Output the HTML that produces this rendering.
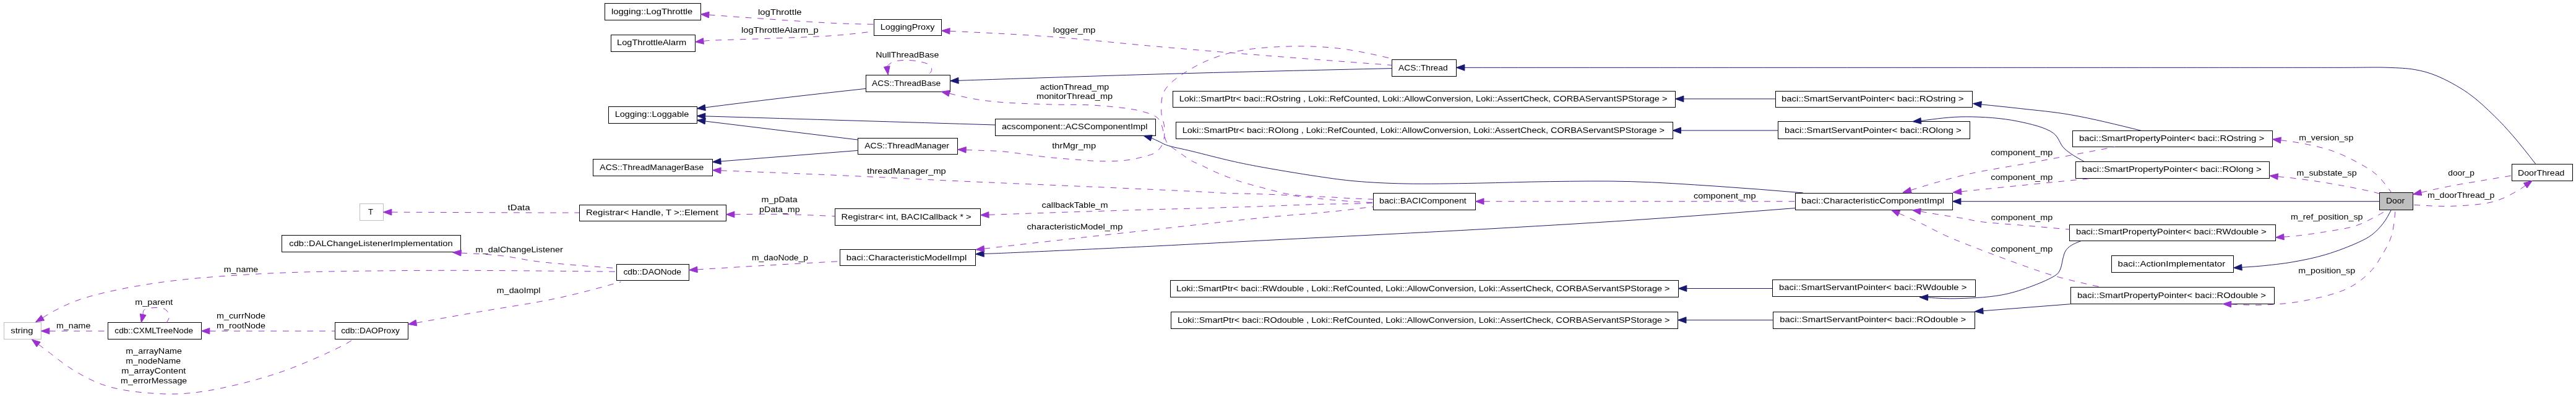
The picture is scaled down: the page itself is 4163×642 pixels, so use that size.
<!DOCTYPE html><html><head><meta charset="utf-8"><style>html,body{margin:0;padding:0;background:#fff;width:4163px;height:642px;overflow:hidden}svg{display:block;will-change:transform}text{font-family:"Liberation Sans",sans-serif;font-size:13px;fill:#000}</style></head><body>
<svg width="4163" height="642" viewBox="0 0 4163 642">
<rect x="0" y="0" width="4163" height="642" fill="#fff"/>
<rect x="977.5" y="5.5" width="155.0" height="27.0" fill="#fff" stroke="#000" stroke-width="1"/>
<rect x="987.5" y="56.5" width="136.0" height="27.0" fill="#fff" stroke="#000" stroke-width="1"/>
<rect x="1412.5" y="31.5" width="109.0" height="26.0" fill="#fff" stroke="#000" stroke-width="1"/>
<rect x="1399.5" y="121.5" width="136.0" height="27.0" fill="#fff" stroke="#000" stroke-width="1"/>
<rect x="2249.5" y="96.5" width="104.0" height="27.0" fill="#fff" stroke="#000" stroke-width="1"/>
<rect x="983.5" y="172.5" width="143.0" height="27.0" fill="#fff" stroke="#000" stroke-width="1"/>
<rect x="1608.5" y="192.5" width="259.0" height="27.0" fill="#fff" stroke="#000" stroke-width="1"/>
<rect x="1386.5" y="223.5" width="161.0" height="26.0" fill="#fff" stroke="#000" stroke-width="1"/>
<rect x="958.5" y="257.5" width="193.0" height="27.0" fill="#fff" stroke="#000" stroke-width="1"/>
<rect x="1895.5" y="147.5" width="812.0" height="26.0" fill="#fff" stroke="#000" stroke-width="1"/>
<rect x="1900.5" y="197.5" width="803.0" height="27.0" fill="#fff" stroke="#000" stroke-width="1"/>
<rect x="2869.5" y="147.5" width="318.0" height="26.0" fill="#fff" stroke="#000" stroke-width="1"/>
<rect x="2873.5" y="196.5" width="310.0" height="28.0" fill="#fff" stroke="#000" stroke-width="1"/>
<rect x="3349.5" y="211.5" width="323.0" height="26.0" fill="#fff" stroke="#000" stroke-width="1"/>
<rect x="3354.5" y="261.5" width="313.0" height="27.0" fill="#fff" stroke="#000" stroke-width="1"/>
<rect x="4059.5" y="265.5" width="98.0" height="27.0" fill="#fff" stroke="#000" stroke-width="1"/>
<rect x="3845.5" y="311.5" width="54.0" height="28.0" fill="#bfbfbf" stroke="#000" stroke-width="1"/>
<rect x="2901.5" y="312.5" width="254.0" height="27.0" fill="#fff" stroke="#000" stroke-width="1"/>
<rect x="2219.5" y="312.5" width="165.0" height="27.0" fill="#fff" stroke="#000" stroke-width="1"/>
<rect x="581.5" y="329.5" width="38.0" height="27.0" fill="#fff" stroke="#bfbfbf" stroke-width="1"/>
<rect x="936.5" y="331.5" width="237.0" height="26.0" fill="#fff" stroke="#000" stroke-width="1"/>
<rect x="1349.5" y="337.5" width="235.0" height="27.0" fill="#fff" stroke="#000" stroke-width="1"/>
<rect x="455.5" y="380.5" width="289.0" height="27.0" fill="#fff" stroke="#000" stroke-width="1"/>
<rect x="996.5" y="427.5" width="117.0" height="26.0" fill="#fff" stroke="#000" stroke-width="1"/>
<rect x="1357.5" y="403.5" width="219.0" height="26.0" fill="#fff" stroke="#000" stroke-width="1"/>
<rect x="3344.5" y="363.5" width="333.0" height="26.0" fill="#fff" stroke="#000" stroke-width="1"/>
<rect x="3412.5" y="413.5" width="197.0" height="27.0" fill="#fff" stroke="#000" stroke-width="1"/>
<rect x="1891.5" y="453.5" width="821.0" height="27.0" fill="#fff" stroke="#000" stroke-width="1"/>
<rect x="2864.5" y="452.5" width="328.0" height="27.0" fill="#fff" stroke="#000" stroke-width="1"/>
<rect x="3346.5" y="464.5" width="329.0" height="27.0" fill="#fff" stroke="#000" stroke-width="1"/>
<rect x="1892.5" y="504.5" width="819.0" height="27.0" fill="#fff" stroke="#000" stroke-width="1"/>
<rect x="2865.5" y="504.5" width="326.0" height="27.0" fill="#fff" stroke="#000" stroke-width="1"/>
<rect x="6.5" y="521.5" width="60.0" height="27.0" fill="#fff" stroke="#bfbfbf" stroke-width="1"/>
<rect x="174.5" y="521.5" width="151.0" height="27.0" fill="#fff" stroke="#000" stroke-width="1"/>
<rect x="541.5" y="521.5" width="118.0" height="27.0" fill="#fff" stroke="#000" stroke-width="1"/>
<path d="M1549.0,130.3 C1584.7,129.1 1620.3,127.9 1666.0,126.4 C1730.6,124.3 1814.0,121.5 1899.8,119.1 C2004.7,116.2 2127.1,113.4 2249.5,110.6" fill="none" stroke="#191970" stroke-width="1"/>
<polygon points="1535.5,130.8 1548.8,125.4 1549.2,135.2" fill="#191970" stroke="#191970" stroke-width="1"/>
<path d="M1139.7,173.9 C1179.1,168.9 1218.4,163.9 1260.0,159.0 C1304.7,153.7 1352.1,148.5 1399.4,143.3" fill="none" stroke="#191970" stroke-width="1"/>
<polygon points="1126.3,175.6 1139.1,169.1 1140.3,178.8" fill="#191970" stroke="#191970" stroke-width="1"/>
<path d="M1139.8,187.9 C1220.4,190.3 1301.0,192.7 1380.0,195.1 C1457.0,197.4 1532.6,199.7 1608.2,202.0" fill="none" stroke="#191970" stroke-width="1"/>
<polygon points="1126.3,187.5 1139.9,183.0 1139.6,192.8" fill="#191970" stroke="#191970" stroke-width="1"/>
<path d="M1139.7,196.0 L1385.9,226.0" fill="none" stroke="#191970" stroke-width="1"/>
<polygon points="1126.3,194.4 1140.3,191.2 1139.1,200.9" fill="#191970" stroke="#191970" stroke-width="1"/>
<path d="M1165.0,260.9 L1385.9,243.4" fill="none" stroke="#191970" stroke-width="1"/>
<polygon points="1151.5,262.0 1164.6,256.0 1165.3,265.8" fill="#191970" stroke="#191970" stroke-width="1"/>
<path d="M2720.9,159.9 L2869.0,159.9" fill="none" stroke="#191970" stroke-width="1"/>
<polygon points="2707.4,159.9 2720.9,155.0 2720.9,164.8" fill="#191970" stroke="#191970" stroke-width="1"/>
<path d="M2716.5,211.0 L2873.2,211.0" fill="none" stroke="#191970" stroke-width="1"/>
<polygon points="2703.0,211.0 2716.5,206.1 2716.5,215.9" fill="#191970" stroke="#191970" stroke-width="1"/>
<path d="M3201.9,168.9 C3222.5,171.0 3243.1,173.0 3265.6,175.6 C3291.0,178.5 3317.5,180.6 3346.7,185.7 C3381.5,191.8 3420.9,201.5 3460.3,211.3" fill="none" stroke="#191970" stroke-width="1"/>
<polygon points="3188.5,167.5 3202.4,164.0 3201.4,173.8" fill="#191970" stroke="#191970" stroke-width="1"/>
<path d="M3104.4,195.4 C3128.4,192.1 3152.3,188.8 3177.4,188.8 C3204.1,188.8 3235.1,190.9 3260.0,196.0 C3281.4,200.4 3305.5,205.8 3318.4,215.3 C3327.5,222.0 3328.4,232.7 3336.0,240.0 C3344.5,248.2 3356.1,254.6 3367.8,261.1" fill="none" stroke="#191970" stroke-width="1"/>
<polygon points="3091.0,196.6 3104.0,190.5 3104.9,200.3" fill="#191970" stroke="#191970" stroke-width="1"/>
<path d="M3168.9,325.7 L3845.4,325.7" fill="none" stroke="#191970" stroke-width="1"/>
<polygon points="3155.4,325.7 3168.9,320.8 3168.9,330.6" fill="#191970" stroke="#191970" stroke-width="1"/>
<path d="M1860.8,223.3 C1864.5,224.9 1868.2,226.5 1872.0,228.3 C1876.1,230.2 1879.0,232.4 1884.5,234.4 C1894.2,237.9 1910.8,240.7 1926.1,244.5 C1945.1,249.2 1971.1,256.0 1990.0,260.3 C2005.1,263.7 2014.1,265.6 2030.7,268.7 C2056.4,273.5 2100.3,280.9 2129.4,285.2 C2152.3,288.6 2169.2,291.1 2191.0,293.0 C2215.7,295.2 2241.1,296.4 2270.0,297.0 C2305.3,297.8 2348.4,296.8 2387.5,296.2 C2426.5,295.6 2464.3,294.0 2504.4,293.6 C2546.8,293.1 2591.2,292.4 2635.4,293.6 C2680.7,294.8 2726.9,298.1 2773.0,301.1 C2819.7,304.2 2866.7,308.0 2913.8,311.9" fill="none" stroke="#191970" stroke-width="1"/>
<polygon points="1847.9,219.4 1862.2,218.6 1859.4,227.9" fill="#191970" stroke="#191970" stroke-width="1"/>
<path d="M1590.1,410.4 C1597.2,410.2 1604.4,410.0 1618.6,409.4 C1660.6,407.7 1789.9,401.7 1867.5,397.9 C1935.8,394.5 1987.7,391.6 2060.0,387.9 C2153.2,383.1 2278.7,377.1 2380.0,371.5 C2471.7,366.4 2554.9,361.6 2642.0,355.8 C2728.7,350.0 2815.1,343.2 2901.4,336.5" fill="none" stroke="#191970" stroke-width="1"/>
<polygon points="1576.6,410.9 1589.9,405.5 1590.3,415.3" fill="#191970" stroke="#191970" stroke-width="1"/>
<path d="M3623.0,432.3 C3632.2,431.8 3641.5,431.3 3652.9,430.2 C3668.1,428.7 3688.2,426.7 3705.8,423.6 C3723.5,420.5 3741.2,416.9 3758.6,411.7 C3776.4,406.4 3798.0,398.1 3811.5,391.8 C3820.3,387.7 3826.2,384.9 3832.7,380.0 C3839.5,374.9 3845.9,368.2 3851.2,361.4 C3856.4,354.7 3860.4,347.0 3864.4,339.4" fill="none" stroke="#191970" stroke-width="1"/>
<polygon points="3609.5,433.2 3622.6,427.4 3623.3,437.2" fill="#191970" stroke="#191970" stroke-width="1"/>
<path d="M3115.7,481.1 C3131.1,482.2 3146.5,483.3 3165.0,482.7 C3188.7,481.9 3219.9,481.0 3246.2,474.6 C3272.7,468.2 3312.2,452.6 3323.2,444.2 C3327.0,441.3 3327.3,439.9 3329.3,436.0 C3332.9,429.0 3333.2,411.5 3339.5,403.6 C3345.2,396.4 3354.5,392.9 3363.8,389.4" fill="none" stroke="#191970" stroke-width="1"/>
<polygon points="3102.2,480.7 3115.8,476.2 3115.5,486.0" fill="#191970" stroke="#191970" stroke-width="1"/>
<path d="M3204.9,502.7 L3346.4,491.7" fill="none" stroke="#191970" stroke-width="1"/>
<polygon points="3191.4,503.8 3204.5,497.9 3205.2,507.6" fill="#191970" stroke="#191970" stroke-width="1"/>
<path d="M2725.8,466.5 L2864.1,466.5" fill="none" stroke="#191970" stroke-width="1"/>
<polygon points="2712.3,466.5 2725.8,461.6 2725.8,471.4" fill="#191970" stroke="#191970" stroke-width="1"/>
<path d="M2725.0,517.6 L2864.9,517.6" fill="none" stroke="#191970" stroke-width="1"/>
<polygon points="2711.5,517.6 2725.0,512.7 2725.0,522.5" fill="#191970" stroke="#191970" stroke-width="1"/>
<path d="M2366.9,109.3 C2982.9,109.3 3598.9,109.3 3780.0,109.3 C3823.1,109.3 3837.5,108.4 3860.0,109.3 C3876.5,109.9 3889.4,110.2 3902.8,112.6 C3915.0,114.8 3924.8,117.3 3937.1,122.3 C3952.8,128.7 3972.7,139.5 3988.5,150.5 C4004.1,161.4 4018.6,175.5 4031.3,187.8 C4042.5,198.6 4051.0,208.1 4061.3,219.9 C4073.1,233.5 4085.4,249.3 4097.7,265.1" fill="none" stroke="#191970" stroke-width="1"/>
<polygon points="2353.4,109.3 2366.9,104.4 2366.9,114.2" fill="#191970" stroke="#191970" stroke-width="1"/>
<path d="M1145.8,24.0 C1165.8,25.5 1185.8,27.0 1211.9,28.8 C1249.5,31.4 1313.0,35.9 1350.0,37.6 C1374.8,38.7 1393.6,39.0 1412.3,39.3" fill="none" stroke="#9a32cd" stroke-width="1" stroke-dasharray="9.8,9.9"/>
<polygon points="1132.3,23.0 1146.1,19.1 1145.4,28.9" fill="#9a32cd" stroke="#9a32cd" stroke-width="1"/>
<path d="M1136.9,66.5 C1139.3,66.1 1141.6,65.8 1146.4,65.5 C1161.9,64.5 1211.3,63.5 1244.6,62.2 C1279.1,60.8 1319.5,59.6 1350.0,57.3 C1373.5,55.5 1392.9,53.1 1412.3,50.7" fill="none" stroke="#9a32cd" stroke-width="1" stroke-dasharray="9.8,9.9"/>
<polygon points="1123.5,67.8 1136.4,61.6 1137.4,71.3" fill="#9a32cd" stroke="#9a32cd" stroke-width="1"/>
<path d="M1535.0,50.3 C1587.8,52.8 1640.7,55.2 1695.3,59.2 C1752.5,63.4 1812.1,70.2 1870.6,75.3 C1929.0,80.4 1985.4,85.1 2046.0,89.9 C2111.3,95.1 2180.4,100.3 2249.5,105.4" fill="none" stroke="#9a32cd" stroke-width="1" stroke-dasharray="9.8,9.9"/>
<polygon points="1521.5,49.6 1535.2,45.5 1534.7,55.2" fill="#9a32cd" stroke="#9a32cd" stroke-width="1"/>
<path d="M1433.2,107.5 C1436.0,104.7 1438.7,101.9 1442.7,100.2 C1448.0,98.0 1456.0,97.6 1462.9,97.4 C1470.2,97.2 1478.7,98.0 1485.6,99.5 C1491.6,100.8 1498.7,102.2 1502.0,105.2 C1504.4,107.4 1506.0,110.8 1505.7,113.4 C1505.3,116.1 1502.4,118.7 1499.4,121.2" fill="none" stroke="#9a32cd" stroke-width="1" stroke-dasharray="9.8,9.9"/>
<polygon points="1435.2,120.9 1428.4,108.3 1438.1,106.8" fill="#9a32cd" stroke="#9a32cd" stroke-width="1"/>
<path d="M1534.2,151.1 C1547.3,154.3 1560.3,157.6 1573.8,159.9 C1587.6,162.3 1599.5,163.8 1616.0,165.2 C1639.2,167.2 1673.2,168.1 1700.0,169.0 C1724.7,169.8 1747.1,168.6 1771.0,170.4 C1795.5,172.2 1826.7,174.9 1845.0,180.0 C1856.5,183.2 1866.1,185.8 1872.0,192.0 C1877.3,197.6 1878.2,207.1 1880.6,214.0 C1882.7,219.9 1882.5,225.8 1886.0,230.8 C1890.2,236.9 1899.2,241.6 1906.0,246.6 C1912.6,251.5 1919.6,256.7 1926.1,260.3 C1931.6,263.4 1936.4,264.8 1942.1,267.5 C1948.9,270.7 1955.7,274.5 1964.2,278.2 C1975.3,283.0 1990.3,288.9 2003.5,293.3 C2016.5,297.6 2032.2,301.4 2042.8,304.3 C2050.0,306.2 2054.7,307.5 2060.9,309.0 C2067.4,310.6 2074.3,312.6 2081.0,313.8 C2087.7,315.0 2094.5,315.7 2101.2,316.4 C2107.9,317.1 2114.6,317.5 2121.3,317.8 C2128.0,318.1 2133.8,318.0 2141.4,318.3 C2151.4,318.7 2166.3,319.9 2176.3,320.4 C2183.8,320.8 2189.1,321.0 2196.0,321.3 C2203.5,321.6 2211.5,322.0 2219.5,322.3" fill="none" stroke="#9a32cd" stroke-width="1" stroke-dasharray="9.8,9.9"/>
<polygon points="1521.0,148.2 1535.2,146.3 1533.1,155.9" fill="#9a32cd" stroke="#9a32cd" stroke-width="1"/>
<path d="M1561.2,242.4 C1567.6,242.6 1574.1,242.9 1581.9,243.2 C1592.0,243.6 1605.3,243.7 1616.9,244.6 C1628.6,245.5 1639.6,247.3 1651.8,248.8 C1665.1,250.5 1679.7,252.8 1693.7,254.3 C1707.6,255.8 1721.6,256.8 1735.6,257.8 C1749.6,258.9 1763.6,260.4 1777.6,260.6 C1791.6,260.8 1807.0,260.7 1819.5,259.2 C1829.8,258.0 1838.8,256.0 1847.4,253.6 C1855.0,251.5 1862.9,250.1 1868.4,246.0 C1873.4,242.2 1877.3,236.8 1879.6,230.6 C1882.2,223.4 1882.1,213.3 1881.6,205.0 C1881.1,196.9 1877.0,189.9 1876.8,181.2 C1876.6,170.6 1876.0,156.8 1882.3,146.0 C1890.4,132.0 1911.5,118.9 1929.0,108.9 C1947.4,98.3 1967.9,90.5 1990.4,84.9 C2016.0,78.6 2046.5,76.4 2075.0,75.3 C2104.0,74.1 2133.8,74.9 2162.8,78.2 C2191.9,81.5 2220.7,88.2 2249.5,94.9" fill="none" stroke="#9a32cd" stroke-width="1" stroke-dasharray="9.8,9.9"/>
<polygon points="1547.7,241.8 1561.4,237.5 1561.0,247.2" fill="#9a32cd" stroke="#9a32cd" stroke-width="1"/>
<path d="M1165.0,275.8 C1233.0,278.4 1301.1,281.1 1365.6,284.0 C1425.8,286.7 1477.9,289.6 1540.0,292.4 C1611.2,295.7 1698.5,299.2 1769.2,302.3 C1830.0,305.0 1901.6,308.1 1939.0,310.0 C1957.5,311.0 1966.5,311.8 1980.4,312.4 C1994.4,313.0 2007.4,312.9 2022.6,313.4 C2040.5,314.0 2063.4,314.5 2081.0,315.8 C2095.7,316.8 2110.4,318.7 2121.3,319.9 C2128.8,320.7 2132.3,321.3 2140.2,322.1 C2153.4,323.4 2178.4,325.4 2193.0,326.3 C2203.3,327.0 2211.4,327.3 2219.5,327.6" fill="none" stroke="#9a32cd" stroke-width="1" stroke-dasharray="9.8,9.9"/>
<polygon points="1151.5,275.2 1165.2,270.9 1164.8,280.7" fill="#9a32cd" stroke="#9a32cd" stroke-width="1"/>
<path d="M1598.0,347.4 C1665.6,345.0 1733.3,342.7 1802.0,340.6 C1872.1,338.4 1971.6,336.0 2014.6,334.6 C2033.3,334.0 2039.2,333.7 2054.9,333.1 C2077.1,332.3 2111.0,330.9 2135.1,330.3 C2154.8,329.8 2173.6,329.9 2189.0,329.4 C2200.6,329.0 2210.1,328.5 2219.5,328.0" fill="none" stroke="#9a32cd" stroke-width="1" stroke-dasharray="9.8,9.9"/>
<polygon points="1584.5,347.8 1597.8,342.5 1598.2,352.3" fill="#9a32cd" stroke="#9a32cd" stroke-width="1"/>
<path d="M1590.4,402.2 C1659.2,394.3 1728.0,386.4 1802.0,378.2 C1883.7,369.1 2001.4,355.8 2060.0,350.2 C2090.2,347.3 2107.4,346.4 2128.8,344.4 C2147.5,342.7 2167.9,340.6 2181.2,339.0 C2189.4,338.0 2194.5,337.2 2201.0,336.4 C2207.3,335.7 2213.4,335.1 2219.5,334.5" fill="none" stroke="#9a32cd" stroke-width="1" stroke-dasharray="9.8,9.9"/>
<polygon points="1577.0,403.7 1589.9,397.3 1591.0,407.0" fill="#9a32cd" stroke="#9a32cd" stroke-width="1"/>
<path d="M2398.0,325.7 L2901.2,325.7" fill="none" stroke="#9a32cd" stroke-width="1" stroke-dasharray="9.8,9.9"/>
<polygon points="2384.5,325.7 2398.0,320.8 2398.0,330.6" fill="#9a32cd" stroke="#9a32cd" stroke-width="1"/>
<path d="M1186.9,346.8 C1210.7,346.4 1234.4,346.1 1260.0,346.5 C1288.2,346.9 1318.6,348.3 1349.0,349.6" fill="none" stroke="#9a32cd" stroke-width="1" stroke-dasharray="9.8,9.9"/>
<polygon points="1173.4,346.8 1186.9,341.9 1186.9,351.7" fill="#9a32cd" stroke="#9a32cd" stroke-width="1"/>
<path d="M632.9,343.1 C732.4,343.5 831.9,343.9 884.2,344.0 C908.0,344.0 922.0,344.0 936.1,344.0" fill="none" stroke="#9a32cd" stroke-width="1" stroke-dasharray="9.8,9.9"/>
<polygon points="619.4,343.1 632.9,338.2 632.9,348.0" fill="#9a32cd" stroke="#9a32cd" stroke-width="1"/>
<path d="M1127.0,435.9 C1158.2,434.0 1189.5,432.0 1224.5,430.0 C1265.3,427.6 1311.2,425.1 1357.1,422.6" fill="none" stroke="#9a32cd" stroke-width="1" stroke-dasharray="9.8,9.9"/>
<polygon points="1113.5,436.7 1126.7,431.0 1127.3,440.8" fill="#9a32cd" stroke="#9a32cd" stroke-width="1"/>
<path d="M745.2,409.1 C767.6,410.2 790.0,411.3 811.2,413.7 C831.2,416.0 846.1,420.1 869.2,422.9 C903.2,427.0 949.6,430.4 996.0,433.7" fill="none" stroke="#9a32cd" stroke-width="1" stroke-dasharray="9.8,9.9"/>
<polygon points="731.7,408.2 745.5,404.2 744.8,414.0" fill="#9a32cd" stroke="#9a32cd" stroke-width="1"/>
<path d="M69.1,513.9 C74.5,510.3 80.0,506.7 87.7,502.7 C99.3,496.7 114.1,489.1 133.0,483.0 C162.0,473.7 205.3,464.8 247.0,458.4 C296.7,450.8 352.3,446.7 411.7,443.3 C481.5,439.2 555.5,438.5 640.0,437.7 C745.5,436.6 870.8,438.0 996.0,439.3" fill="none" stroke="#9a32cd" stroke-width="1" stroke-dasharray="9.8,9.9"/>
<polygon points="57.5,520.8 66.6,509.7 71.6,518.1" fill="#9a32cd" stroke="#9a32cd" stroke-width="1"/>
<path d="M672.9,522.1 C704.4,516.5 735.9,510.9 771.0,504.8 C811.5,497.7 861.3,490.7 902.0,481.9 C938.2,474.1 970.8,464.9 1003.5,455.7" fill="none" stroke="#9a32cd" stroke-width="1" stroke-dasharray="9.8,9.9"/>
<polygon points="659.6,524.4 672.0,517.2 673.7,526.9" fill="#9a32cd" stroke="#9a32cd" stroke-width="1"/>
<path d="M338.8,535.3 L541.3,535.3" fill="none" stroke="#9a32cd" stroke-width="1" stroke-dasharray="9.8,9.9"/>
<polygon points="325.3,535.3 338.8,530.4 338.8,540.2" fill="#9a32cd" stroke="#9a32cd" stroke-width="1"/>
<path d="M79.9,535.3 L174.3,535.3" fill="none" stroke="#9a32cd" stroke-width="1" stroke-dasharray="9.8,9.9"/>
<polygon points="66.4,535.3 79.9,530.4 79.9,540.2" fill="#9a32cd" stroke="#9a32cd" stroke-width="1"/>
<path d="M231.2,508.5 C231.1,505.8 231.0,503.0 232.8,501.2 C235.7,498.4 245.2,497.7 251.0,497.5 C256.2,497.4 262.2,497.4 266.0,499.7 C269.6,501.8 273.2,506.5 273.7,510.2 C274.2,513.8 271.6,517.8 269.1,521.7" fill="none" stroke="#9a32cd" stroke-width="1" stroke-dasharray="9.8,9.9"/>
<polygon points="228.3,521.7 226.4,507.5 236.0,509.6" fill="#9a32cd" stroke="#9a32cd" stroke-width="1"/>
<path d="M62.2,557.0 C65.1,559.1 67.9,561.2 72.6,564.7 C82.8,572.2 104.0,590.0 121.0,600.0 C137.8,609.9 154.0,618.7 174.0,624.7 C197.8,631.8 229.2,635.3 255.4,636.6 C279.7,637.8 299.5,637.2 326.0,633.4 C361.4,628.3 409.8,616.3 448.4,603.5 C484.8,591.5 531.0,570.3 551.6,560.0 C560.8,555.4 565.9,552.0 571.0,548.6" fill="none" stroke="#9a32cd" stroke-width="1" stroke-dasharray="9.8,9.9"/>
<polygon points="51.4,549.0 65.2,553.1 59.3,561.0" fill="#9a32cd" stroke="#9a32cd" stroke-width="1"/>
<path d="M3088.1,307.5 C3117.1,298.5 3146.2,289.6 3177.4,282.3 C3211.0,274.5 3245.8,269.9 3283.2,262.9 C3325.4,255.1 3371.7,246.3 3418.0,237.5" fill="none" stroke="#9a32cd" stroke-width="1" stroke-dasharray="9.8,9.9"/>
<polygon points="3075.1,311.2 3086.8,302.8 3089.4,312.2" fill="#9a32cd" stroke="#9a32cd" stroke-width="1"/>
<path d="M3169.6,309.8 C3208.1,305.8 3246.7,301.8 3283.2,298.1 C3317.3,294.7 3349.6,291.5 3382.0,288.3" fill="none" stroke="#9a32cd" stroke-width="1" stroke-dasharray="9.8,9.9"/>
<polygon points="3156.2,311.2 3169.1,304.9 3170.1,314.7" fill="#9a32cd" stroke="#9a32cd" stroke-width="1"/>
<path d="M3103.8,342.0 C3112.4,343.5 3120.9,345.0 3130.8,346.6 C3142.9,348.6 3158.7,350.8 3171.0,352.9 C3181.5,354.7 3188.2,356.8 3200.0,358.4 C3218.2,360.9 3246.3,362.4 3270.0,364.5 C3294.5,366.6 3319.6,368.9 3344.7,371.1" fill="none" stroke="#9a32cd" stroke-width="1" stroke-dasharray="9.8,9.9"/>
<polygon points="3090.5,339.8 3104.6,337.2 3103.0,346.9" fill="#9a32cd" stroke="#9a32cd" stroke-width="1"/>
<path d="M3068.8,345.1 C3070.6,345.9 3072.4,346.6 3075.3,347.9 C3081.7,350.7 3095.0,356.6 3105.6,361.7 C3117.6,367.4 3130.3,374.6 3143.4,380.6 C3157.1,386.8 3169.0,391.5 3186.2,398.2 C3211.8,408.2 3256.6,425.0 3282.7,434.0 C3300.3,440.1 3310.7,443.6 3327.3,448.2 C3347.7,453.8 3371.9,459.2 3396.2,464.5" fill="none" stroke="#9a32cd" stroke-width="1" stroke-dasharray="9.8,9.9"/>
<polygon points="3056.4,339.8 3070.7,340.6 3066.9,349.6" fill="#9a32cd" stroke="#9a32cd" stroke-width="1"/>
<path d="M3685.9,226.8 C3688.8,227.1 3691.7,227.4 3696.0,228.0 C3703.9,229.1 3717.6,231.1 3729.3,233.6 C3742.5,236.4 3757.3,239.7 3770.9,244.6 C3785.0,249.7 3800.2,257.2 3812.4,264.0 C3822.8,269.8 3831.7,274.6 3840.2,282.1 C3849.4,290.3 3857.2,301.1 3865.1,311.9" fill="none" stroke="#9a32cd" stroke-width="1" stroke-dasharray="9.8,9.9"/>
<polygon points="3672.5,225.2 3686.5,221.9 3685.3,231.7" fill="#9a32cd" stroke="#9a32cd" stroke-width="1"/>
<path d="M3681.2,285.6 C3687.4,286.1 3693.6,286.7 3701.6,287.6 C3713.0,288.9 3729.3,291.0 3743.1,293.1 C3757.0,295.2 3770.9,297.6 3784.7,300.1 C3798.6,302.7 3815.1,305.9 3826.3,308.4 C3833.9,310.1 3839.7,311.6 3845.4,313.1" fill="none" stroke="#9a32cd" stroke-width="1" stroke-dasharray="9.8,9.9"/>
<polygon points="3667.8,284.3 3681.7,280.7 3680.8,290.5" fill="#9a32cd" stroke="#9a32cd" stroke-width="1"/>
<path d="M3691.0,383.0 C3695.2,382.9 3699.4,382.7 3705.8,382.0 C3718.0,380.7 3741.5,377.6 3758.6,374.7 C3774.9,372.0 3792.2,369.9 3806.2,365.4 C3818.1,361.6 3828.8,355.7 3838.0,350.9 C3845.5,347.0 3851.6,343.2 3857.8,339.4" fill="none" stroke="#9a32cd" stroke-width="1" stroke-dasharray="9.8,9.9"/>
<polygon points="3677.5,384.0 3690.6,378.2 3691.3,387.9" fill="#9a32cd" stroke="#9a32cd" stroke-width="1"/>
<path d="M3605.7,492.0 C3623.6,492.9 3641.5,493.8 3660.0,493.0 C3679.5,492.2 3699.1,490.9 3720.0,487.0 C3743.5,482.6 3774.2,476.0 3793.8,466.5 C3808.8,459.2 3820.5,449.6 3830.0,440.0 C3838.0,432.0 3842.9,423.6 3848.5,414.3 C3854.4,404.5 3860.7,394.3 3864.4,382.6 C3868.5,369.6 3869.8,354.5 3871.0,339.4" fill="none" stroke="#9a32cd" stroke-width="1" stroke-dasharray="9.8,9.9"/>
<polygon points="3592.2,491.5 3605.9,487.1 3605.5,496.9" fill="#9a32cd" stroke="#9a32cd" stroke-width="1"/>
<path d="M3912.8,311.3 C3927.0,307.9 3941.2,304.6 3956.3,301.6 C3972.4,298.4 3989.7,295.7 4006.6,292.8 C4023.9,289.8 4041.4,286.9 4059.0,284.0" fill="none" stroke="#9a32cd" stroke-width="1" stroke-dasharray="9.8,9.9"/>
<polygon points="3899.6,314.2 3911.7,306.5 3913.8,316.1" fill="#9a32cd" stroke="#9a32cd" stroke-width="1"/>
<path d="M4081.2,299.9 C4078.0,302.5 4074.7,305.0 4069.6,307.9 C4060.8,312.9 4046.4,321.3 4031.8,325.5 C4013.8,330.6 3990.4,332.1 3968.9,333.1 C3946.4,334.2 3923.0,332.7 3899.6,331.3" fill="none" stroke="#9a32cd" stroke-width="1" stroke-dasharray="9.8,9.9"/>
<polygon points="4092.3,292.3 4083.9,304.0 4078.4,295.9" fill="#9a32cd" stroke="#9a32cd" stroke-width="1"/>
<text x="988.0" y="23.0" textLength="131.4" lengthAdjust="spacingAndGlyphs" xml:space="preserve">logging::LogThrottle</text>
<text x="997.0" y="73.0" textLength="112.3" lengthAdjust="spacingAndGlyphs" xml:space="preserve">LogThrottleAlarm</text>
<text x="1422.8" y="48.3" textLength="87.6" lengthAdjust="spacingAndGlyphs" xml:space="preserve">LoggingProxy</text>
<text x="1409.1" y="139.0" textLength="111.1" lengthAdjust="spacingAndGlyphs" xml:space="preserve">ACS::ThreadBase</text>
<text x="2260.0" y="113.6" textLength="79.6" lengthAdjust="spacingAndGlyphs" xml:space="preserve">ACS::Thread</text>
<text x="993.7" y="189.0" textLength="119.6" lengthAdjust="spacingAndGlyphs" xml:space="preserve">Logging::Loggable</text>
<text x="1619.0" y="209.0" textLength="235.4" lengthAdjust="spacingAndGlyphs" xml:space="preserve">acscomponent::ACSComponentImpl</text>
<text x="1397.2" y="240.2" textLength="136.8" lengthAdjust="spacingAndGlyphs" xml:space="preserve">ACS::ThreadManager</text>
<text x="969.3" y="275.2" textLength="168.1" lengthAdjust="spacingAndGlyphs" xml:space="preserve">ACS::ThreadManagerBase</text>
<text x="1905.7" y="163.8" textLength="788.7" lengthAdjust="spacingAndGlyphs" xml:space="preserve">Loki::SmartPtr&lt; baci::ROstring , Loki::RefCounted, Loki::AllowConversion, Loki::AssertCheck, CORBAServantSPStorage &gt;</text>
<text x="1910.7" y="214.8" textLength="779.3" lengthAdjust="spacingAndGlyphs" xml:space="preserve">Loki::SmartPtr&lt; baci::ROlong , Loki::RefCounted, Loki::AllowConversion, Loki::AssertCheck, CORBAServantSPStorage &gt;</text>
<text x="2879.0" y="163.8" textLength="294.5" lengthAdjust="spacingAndGlyphs" xml:space="preserve">baci::SmartServantPointer&lt; baci::ROstring &gt;</text>
<text x="2884.0" y="215.3" textLength="285.6" lengthAdjust="spacingAndGlyphs" xml:space="preserve">baci::SmartServantPointer&lt; baci::ROlong &gt;</text>
<text x="3360.0" y="227.7" textLength="299.2" lengthAdjust="spacingAndGlyphs" xml:space="preserve">baci::SmartPropertyPointer&lt; baci::ROstring &gt;</text>
<text x="3364.8" y="278.4" textLength="289.9" lengthAdjust="spacingAndGlyphs" xml:space="preserve">baci::SmartPropertyPointer&lt; baci::ROlong &gt;</text>
<text x="4069.0" y="283.5" textLength="75.4" lengthAdjust="spacingAndGlyphs" xml:space="preserve">DoorThread</text>
<text x="3856.0" y="329.3" textLength="30.0" lengthAdjust="spacingAndGlyphs" xml:space="preserve">Door</text>
<text x="2911.1" y="329.3" textLength="230.9" lengthAdjust="spacingAndGlyphs" xml:space="preserve">baci::CharacteristicComponentImpl</text>
<text x="2229.0" y="329.0" textLength="140.8" lengthAdjust="spacingAndGlyphs" xml:space="preserve">baci::BACIComponent</text>
<text x="595.0" y="346.8" textLength="8.0" lengthAdjust="spacingAndGlyphs" xml:space="preserve">T</text>
<text x="947.0" y="348.0" textLength="213.8" lengthAdjust="spacingAndGlyphs" xml:space="preserve">Registrar&lt; Handle, T &gt;::Element</text>
<text x="1359.6" y="354.9" textLength="210.1" lengthAdjust="spacingAndGlyphs" xml:space="preserve">Registrar&lt; int, BACICallback * &gt;</text>
<text x="467.3" y="397.5" textLength="264.4" lengthAdjust="spacingAndGlyphs" xml:space="preserve">cdb::DALChangeListenerImplementation</text>
<text x="1007.4" y="443.6" textLength="93.7" lengthAdjust="spacingAndGlyphs" xml:space="preserve">cdb::DAONode</text>
<text x="1367.7" y="420.6" textLength="194.7" lengthAdjust="spacingAndGlyphs" xml:space="preserve">baci::CharacteristicModelImpl</text>
<text x="3354.9" y="379.2" textLength="307.8" lengthAdjust="spacingAndGlyphs" xml:space="preserve">baci::SmartPropertyPointer&lt; baci::RWdouble &gt;</text>
<text x="3422.6" y="430.7" textLength="173.6" lengthAdjust="spacingAndGlyphs" xml:space="preserve">baci::ActionImplementator</text>
<text x="1901.1" y="471.0" textLength="797.4" lengthAdjust="spacingAndGlyphs" xml:space="preserve">Loki::SmartPtr&lt; baci::RWdouble , Loki::RefCounted, Loki::AllowConversion, Loki::AssertCheck, CORBAServantSPStorage &gt;</text>
<text x="2875.0" y="469.3" textLength="303.4" lengthAdjust="spacingAndGlyphs" xml:space="preserve">baci::SmartServantPointer&lt; baci::RWdouble &gt;</text>
<text x="3356.9" y="481.5" textLength="305.1" lengthAdjust="spacingAndGlyphs" xml:space="preserve">baci::SmartPropertyPointer&lt; baci::ROdouble &gt;</text>
<text x="1903.1" y="521.7" textLength="795.4" lengthAdjust="spacingAndGlyphs" xml:space="preserve">Loki::SmartPtr&lt; baci::ROdouble , Loki::RefCounted, Loki::AllowConversion, Loki::AssertCheck, CORBAServantSPStorage &gt;</text>
<text x="2876.3" y="521.3" textLength="300.9" lengthAdjust="spacingAndGlyphs" xml:space="preserve">baci::SmartServantPointer&lt; baci::ROdouble &gt;</text>
<text x="17.3" y="539.4" textLength="36.2" lengthAdjust="spacingAndGlyphs" xml:space="preserve">string</text>
<text x="185.3" y="539.4" textLength="126.8" lengthAdjust="spacingAndGlyphs" xml:space="preserve">cdb::CXMLTreeNode</text>
<text x="551.2" y="539.4" textLength="94.7" lengthAdjust="spacingAndGlyphs" xml:space="preserve">cdb::DAOProxy</text>
<text x="1225.0" y="23.5" textLength="70.5" lengthAdjust="spacingAndGlyphs">logThrottle</text>
<text x="1198.0" y="52.7" textLength="124.6" lengthAdjust="spacingAndGlyphs">logThrottleAlarm_p</text>
<text x="1701.7" y="52.8" textLength="68.7" lengthAdjust="spacingAndGlyphs">logger_mp</text>
<text x="1415.2" y="92.7" textLength="102.2" lengthAdjust="spacingAndGlyphs">NullThreadBase</text>
<text x="1680.8" y="144.5" textLength="111.5" lengthAdjust="spacingAndGlyphs">actionThread_mp</text>
<text x="1675.0" y="160.0" textLength="123.2" lengthAdjust="spacingAndGlyphs">monitorThread_mp</text>
<text x="1700.3" y="240.2" textLength="70.9" lengthAdjust="spacingAndGlyphs">thrMgr_mp</text>
<text x="1401.3" y="280.8" textLength="127.4" lengthAdjust="spacingAndGlyphs">threadManager_mp</text>
<text x="1683.4" y="335.7" textLength="107.1" lengthAdjust="spacingAndGlyphs">callbackTable_m</text>
<text x="1659.5" y="370.7" textLength="154.9" lengthAdjust="spacingAndGlyphs">characteristicModel_mp</text>
<text x="1230.6" y="326.5" textLength="58.0" lengthAdjust="spacingAndGlyphs">m_pData</text>
<text x="1227.0" y="342.7" textLength="65.6" lengthAdjust="spacingAndGlyphs">pData_mp</text>
<text x="820.6" y="339.9" textLength="36.0" lengthAdjust="spacingAndGlyphs">tData</text>
<text x="768.6" y="407.6" textLength="141.2" lengthAdjust="spacingAndGlyphs">m_dalChangeListener</text>
<text x="1215.0" y="420.6" textLength="91.0" lengthAdjust="spacingAndGlyphs">m_daoNode_p</text>
<text x="361.8" y="439.8" textLength="55.4" lengthAdjust="spacingAndGlyphs">m_name</text>
<text x="802.8" y="474.0" textLength="70.7" lengthAdjust="spacingAndGlyphs">m_daoImpl</text>
<text x="218.2" y="492.7" textLength="61.0" lengthAdjust="spacingAndGlyphs">m_parent</text>
<text x="350.0" y="514.7" textLength="79.0" lengthAdjust="spacingAndGlyphs">m_currNode</text>
<text x="350.0" y="531.1" textLength="79.0" lengthAdjust="spacingAndGlyphs">m_rootNode</text>
<text x="91.1" y="531.1" textLength="55.2" lengthAdjust="spacingAndGlyphs">m_name</text>
<text x="203.3" y="572.2" textLength="90.7" lengthAdjust="spacingAndGlyphs">m_arrayName</text>
<text x="203.3" y="588.3" textLength="88.8" lengthAdjust="spacingAndGlyphs">m_nodeName</text>
<text x="196.2" y="604.3" textLength="104.1" lengthAdjust="spacingAndGlyphs">m_arrayContent</text>
<text x="195.1" y="619.8" textLength="107.1" lengthAdjust="spacingAndGlyphs">m_errorMessage</text>
<text x="2737.0" y="320.8" textLength="100.5" lengthAdjust="spacingAndGlyphs">component_mp</text>
<text x="3217.2" y="250.5" textLength="100.2" lengthAdjust="spacingAndGlyphs">component_mp</text>
<text x="3217.2" y="291.1" textLength="100.2" lengthAdjust="spacingAndGlyphs">component_mp</text>
<text x="3217.8" y="355.7" textLength="99.4" lengthAdjust="spacingAndGlyphs">component_mp</text>
<text x="3217.8" y="406.8" textLength="99.4" lengthAdjust="spacingAndGlyphs">component_mp</text>
<text x="3715.2" y="227.0" textLength="88.1" lengthAdjust="spacingAndGlyphs">m_version_sp</text>
<text x="3711.6" y="284.0" textLength="97.0" lengthAdjust="spacingAndGlyphs">m_substate_sp</text>
<text x="3701.9" y="355.4" textLength="116.6" lengthAdjust="spacingAndGlyphs">m_ref_position_sp</text>
<text x="3714.2" y="442.1" textLength="92.0" lengthAdjust="spacingAndGlyphs">m_position_sp</text>
<text x="3956.3" y="284.0" textLength="42.7" lengthAdjust="spacingAndGlyphs">door_p</text>
<text x="3923.0" y="319.8" textLength="108.3" lengthAdjust="spacingAndGlyphs">m_doorThread_p</text>
</svg></body></html>
